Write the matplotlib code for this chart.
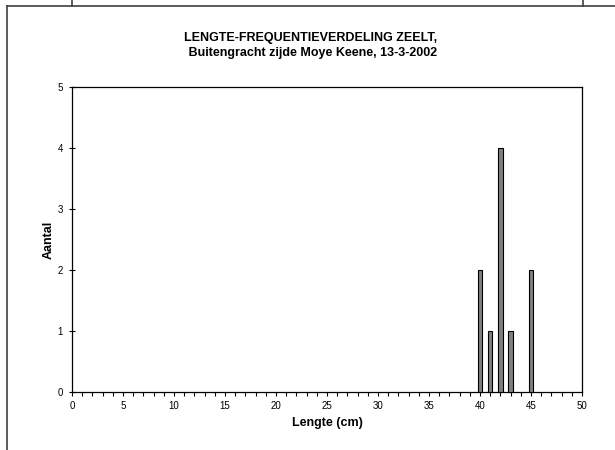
import matplotlib
matplotlib.use("Agg")
import matplotlib.pyplot as plt
from matplotlib.lines import Line2D
import numpy as np

# Data
lengths = [40, 41, 42, 43, 45]
counts = [2, 1, 4, 1, 2]
x_ticks = list(range(0, 51, 5))
y_ticks = [0, 1, 2, 3, 4, 5]
title = "LENGTE-FREQUENTIEVERDELING ZEELT,\n Buitengracht zijde Moye Keene, 13-3-2002"
xlabel = "Lengte (cm)"
ylabel = "Aantal"

plt.rcParams['font.family'] = ['Liberation Sans', 'DejaVu Sans']

W, H = 615, 450
fig = plt.figure(figsize=(W / 100, H / 100), dpi=100)
fig.patch.set_facecolor('white')

# outer frame lines (document table border)
fc = '#404040'
fig.add_artist(Line2D([7 / W, 615 / W], [1 - 5.5 / H, 1 - 5.5 / H], color=fc, lw=1.2, transform=fig.transFigure))
fig.add_artist(Line2D([7 / W, 7 / W], [1 - 5.5 / H, 0], color=fc, lw=1.2, transform=fig.transFigure))
fig.add_artist(Line2D([72 / W, 72 / W], [1, 1 - 5.5 / H], color=fc, lw=1.2, transform=fig.transFigure))
fig.add_artist(Line2D([583 / W, 583 / W], [1, 1 - 5.5 / H], color=fc, lw=1.2, transform=fig.transFigure))

left, right, top, bottom = 72, 582, 87, 392
ax = fig.add_axes([left / W, 1 - bottom / H, (right - left) / W, (bottom - top) / H])

ax.bar(lengths, counts, width=0.45, color='#808080', edgecolor='black', linewidth=0.8, zorder=3)

ax.set_xlim(0, 50)
ax.set_ylim(0, 5)
ax.set_xticks(x_ticks)
ax.set_xticks(range(0, 51), minor=True)
ax.set_yticks(y_ticks)
ax.tick_params(axis='x', which='both', direction='out', length=3, width=0.8, labelsize=7, pad=3.5, colors='black')
ax.tick_params(axis='y', which='major', direction='inout', length=5, width=0.8, labelsize=7, pad=4)
for s in ax.spines.values():
    s.set_linewidth(0.9)
    s.set_color('black')

ax.set_xlabel(xlabel, fontsize=9, fontweight='bold', labelpad=4.5)
ax.set_ylabel(ylabel, fontsize=9, fontweight='bold', labelpad=2)

fig.text(311 / W, 1 - 45.5 / H, title, ha='center', va='center',
         fontsize=9, fontweight='bold', linespacing=1.3)

fig.savefig('out.png', dpi=100)
